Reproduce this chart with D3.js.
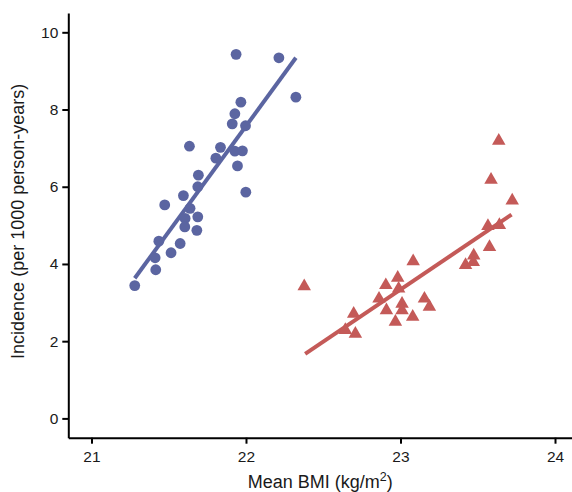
<!DOCTYPE html>
<html>
<head>
<meta charset="utf-8">
<script src="https://cdn.jsdelivr.net/npm/d3@7"></script>
<style>
  body { margin: 0; background: #fff; }
  text { font-family: "Liberation Sans", Arial, sans-serif; }
</style>
</head>
<body>
<div id="chart"></div>
<script>
// values
var blueBMI = [21.936, 22.213, 22.323, 21.967, 21.928, 21.911, 21.997, 21.634, 21.835, 21.805,
  21.928, 21.977, 21.945, 21.692, 21.688, 21.999, 21.595, 21.474, 21.638, 21.606,
  21.688, 21.604, 21.682, 21.574, 21.436, 21.515, 21.412, 21.416, 21.28];
var blueInc = [9.43, 9.34, 8.32, 8.19, 7.89, 7.63, 7.58, 7.05, 7.02, 6.74,
  6.92, 6.93, 6.54, 6.30, 6.00, 5.86, 5.77, 5.53, 5.44, 5.18,
  5.22, 4.96, 4.87, 4.53, 4.59, 4.29, 4.16, 3.85, 3.44];

var redBMI = [22.377, 22.697, 22.643, 22.708, 22.861, 22.905, 22.982, 23.082, 22.988, 22.909,
  22.967, 23.010, 23.010, 23.079, 23.155, 23.187, 23.421, 23.474, 23.471, 23.576,
  23.566, 23.640, 23.723, 23.586, 23.636];
var redInc = [3.47, 2.76, 2.34, 2.24, 3.15, 3.50, 3.69, 4.12, 3.41, 2.85,
  2.55, 3.02, 2.85, 2.68, 3.15, 2.94, 4.02, 4.27, 4.10, 4.49,
  5.03, 5.06, 5.69, 6.23, 7.24];

// fitted lines (end points)
var blueFitX = [21.28, 22.323];
var blueFitY = [3.63, 9.34];
var redFitX = [22.383, 23.719];
var redFitY = [1.67, 5.28];

var xTicks = [21, 22, 23, 24];
var yTicks = [0, 2, 4, 6, 8, 10];

var blue = "#5B65A1";
var red = "#C45A58";

var margin = { top: 13, right: 0, bottom: 54.3, left: 68.3 };
var width = 572 - margin.left - margin.right;
var height = 492 - margin.top - margin.bottom;

var svg = d3.select("#chart")
  .append("svg")
    .attr("width", 572)
    .attr("height", 492)
  .append("g")
    .attr("transform", `translate(${margin.left},${margin.top})`);

var x = d3.scaleLinear().domain([20.85, 24.11]).range([0, width]);
var y = d3.scaleLinear().domain([-0.5, 10.5]).range([height, 0]);

// axes
var xAxis = svg.append("g")
  .attr("transform", "translate(0," + height + ")")
  .call(d3.axisBottom(x).tickValues(xTicks).tickSize(6).tickSizeOuter(0).tickPadding(7).tickFormat(d3.format("d")));

var yAxis = svg.append("g")
  .call(d3.axisLeft(y).tickValues(yTicks).tickSize(6).tickSizeOuter(0).tickPadding(4).tickFormat(d3.format("d")));

[xAxis, yAxis].forEach(function(a) {
  a.select(".domain").attr("stroke", "#000").attr("stroke-width", 2);
  a.selectAll(".tick line").attr("stroke", "#000").attr("stroke-width", 2);
  a.selectAll(".tick text").attr("fill", "#1a1a1a").style("font-size", "15.5px");
});

// axis titles
var xt = svg.append("text")
  .attr("x", width / 2)
  .attr("y", height + 50)
  .style("text-anchor", "middle")
  .style("font-size", "18px")
  .attr("fill", "#1a1a1a");
xt.append("tspan").text("Mean BMI (kg/m");
xt.append("tspan").attr("dy", "-7").style("font-size", "12.5px").text("2");
xt.append("tspan").attr("dy", "7").text(")");

svg.append("text")
  .attr("transform", "rotate(-90)")
  .attr("x", -height / 2 + 4)
  .attr("y", -margin.left + 24)
  .style("text-anchor", "middle")
  .style("font-size", "18px")
  .attr("fill", "#1a1a1a")
  .text("Incidence (per 1000 person-years)");

// fit lines
var line = d3.line().x(d => x(d[0])).y(d => y(d[1]));

svg.append("path")
  .datum(d3.zip(blueFitX, blueFitY))
  .attr("fill", "none")
  .attr("stroke", blue)
  .attr("stroke-width", 4)
  .attr("d", line);

svg.append("path")
  .datum(d3.zip(redFitX, redFitY))
  .attr("fill", "none")
  .attr("stroke", red)
  .attr("stroke-width", 4)
  .attr("d", line);

// points
svg.append("g")
  .selectAll("circle")
  .data(d3.zip(blueBMI, blueInc))
  .join("circle")
    .attr("cx", d => x(d[0]))
    .attr("cy", d => y(d[1]))
    .attr("r", 5.4)
    .attr("fill", blue);

var s = 13.5, h = s * Math.sqrt(3) / 2;
svg.append("g")
  .selectAll("path")
  .data(d3.zip(redBMI, redInc))
  .join("path")
    .attr("transform", d => "translate(" + x(d[0]) + "," + y(d[1]) + ")")
    .attr("d", "M0," + (-h / 2) + "L" + (s / 2) + "," + (h / 2) + "L" + (-s / 2) + "," + (h / 2) + "Z")
    .attr("fill", red);
</script>
</body>
</html>
